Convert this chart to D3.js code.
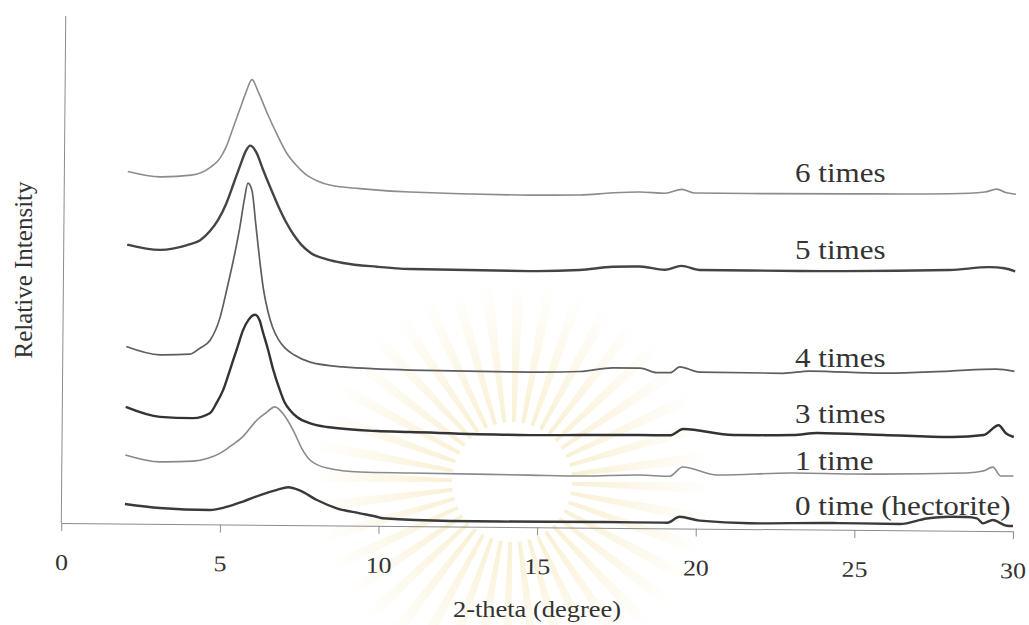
<!DOCTYPE html>
<html>
<head>
<meta charset="utf-8">
<script src="https://cdn.jsdelivr.net/npm/d3@7"></script>
<style>
  body { margin: 0; background: #fff; }
  svg text { font-family: "Liberation Serif", "Times New Roman", serif; fill: #333; }
</style>
</head>
<body>
<div id="chart"></div>
<script>
// XRD patterns, [2-theta, relative intensity]
const series0 = [[2.0,19.6],[3.1,15.9],[4.68,14.3],[5.2,17.5],[5.72,23],[6.26,29.7],[6.79,35],[7.14,37.7],[7.52,34.4],[8.05,25.2],[8.68,17.1],[9.41,12.3],[9.94,9],[10.13,7.5],[12.26,5.4],[13.83,5.3],[16.98,5.7],[19.1,5.6],[19.49,11.7],[20.12,7.9],[21.7,5.7],[24.32,6.7],[26.43,6.3],[27.28,12],[28.01,14],[28.54,13.9],[28.86,12.7],[29.05,7.7],[29.36,11.1],[29.8,5.5],[30,5.3]];
const series1 = [[2.0,68.6],[3.09,62],[4.15,63],[4.6,66],[4.98,71],[5.3,78],[5.7,88],[6.14,104.7],[6.46,113],[6.7,118],[6.95,111.6],[7.28,95],[7.59,75],[7.82,65.2],[8.36,57.3],[9.4,53.6],[10.98,53],[14.76,52],[16.33,51.5],[18.22,53],[19.16,52],[19.57,61.4],[20.66,53.7],[23.05,56.4],[24.84,55.9],[28.53,57.9],[29.04,60],[29.35,64],[29.6,55.2],[30,55.3]];
const series3 = [[2.0,116.6],[3.08,107],[4.12,106],[4.65,111],[4.87,122],[5.06,134],[5.21,148],[5.37,164],[5.52,179],[5.67,194],[5.85,205],[6.05,210],[6.2,204],[6.3,193],[6.47,175],[6.63,156],[6.85,135],[7.0,123],[7.2,114],[7.4,108],[7.8,102],[8.35,98.3],[9.92,94.7],[10.96,94],[14.74,92],[16.32,92.5],[18.21,93],[19.16,93],[19.58,99.4],[21.16,93.8],[23.05,94.4],[23.81,96.6],[25.89,95.2],[28.0,93.7],[29.05,96],[29.52,106],[29.75,98],[30,94.3]];
const series4 = [[2.0,177],[3.06,169],[4.01,170],[4.32,176],[4.64,184],[4.94,206],[5.16,236],[5.4,272],[5.55,298],[5.68,325],[5.79,341.5],[5.92,334],[6.05,300],[6.18,265],[6.3,237],[6.45,214],[6.6,198],[6.8,185],[7.0,177],[7.3,170],[7.8,163],[8.83,158.5],[10.95,156],[14.73,155],[16.31,156],[17.35,160],[18.2,160],[18.73,155.5],[19.16,155.6],[19.45,161.5],[20.08,156.5],[22.7,156],[23.55,158.5],[25.85,157],[27.96,159.7],[29.44,162],[30,160]];
const series5 = [[2.0,279],[3.03,274],[3.89,279],[4.3,284],[4.6,293],[4.85,304],[5.1,320],[5.35,342],[5.55,360],[5.72,374],[5.85,379],[6.05,372],[6.25,356],[6.5,337],[6.75,319],[7.0,303],[7.25,290],[7.5,280],[7.8,272],[8.3,266],[8.81,262.5],[9.88,259],[10.92,257],[14.7,256],[16.27,257.5],[17.31,261],[18.17,261.5],[18.95,258.5],[19.48,262.5],[20.05,258.6],[23.2,258.5],[27.93,260.7],[29.19,264],[29.66,263],[30,260]];
const series6 = [[2.0,352],[3.02,347],[4.0,349],[4.6,357],[4.9,366],[5.1,378],[5.3,396],[5.5,414],[5.7,432],[5.89,445],[6.1,432],[6.4,410],[6.7,390],[7.0,372],[7.3,360],[7.6,351],[8.0,344],[8.4,340],[9.32,337],[10.9,334],[14.68,332],[16.26,332.5],[17.3,335],[18.15,336],[18.94,335],[19.47,339],[19.88,335.5],[21.61,335.5],[24.76,336],[27.92,337],[29.02,339],[29.4,342],[29.65,339],[30,337]];

const seriesNames = ["0 time (hectorite)", "1 time", "3 times", "4 times", "5 times", "6 times"];
const xTicks = [0, 5, 10, 15, 20, 25, 30];

const width = 1029, height = 625;
const stretch = 1.15; // the scan is a bit wider than tall

const svg = d3.select("#chart").append("svg")
  .attr("width", width).attr("height", height);

// faint watermark behind the plot
const grad = svg.append("defs").append("radialGradient")
  .attr("id", "fade").attr("gradientUnits", "userSpaceOnUse")
  .attr("cx", 0).attr("cy", 0).attr("r", 200);
grad.append("stop").attr("offset", "0.3").attr("stop-color", "#f2dfa0").attr("stop-opacity", 0.45);
grad.append("stop").attr("offset", "1").attr("stop-color", "#f2dfa0").attr("stop-opacity", 0);

const mark = svg.append("g").attr("transform", "translate(512,482)");
for (let i = 0; i < 40; i++) {
  const a0 = (i / 40) * 2 * Math.PI, a1 = a0 + 0.06;
  const r0 = 60, r1 = 200;
  mark.append("path")
    .attr("d", `M${r0*Math.cos(a0)},${r0*Math.sin(a0)} L${r1*Math.cos(a0)},${r1*Math.sin(a0)} L${r1*Math.cos(a1)},${r1*Math.sin(a1)} L${r0*Math.cos(a1)},${r0*Math.sin(a1)}Z`)
    .attr("fill", "url(#fade)");
}

// whole plot is slightly tilted on the scan
const plot = svg.append("g").attr("transform", "rotate(0.5, 61, 523)");

const x = d3.scaleLinear().domain([0, 30]).range([61.3, 1013]);
const y = d3.scaleLinear().domain([0, 507]).range([523, 16]);

const stretchText = (sel) => sel.each(function() {
  const w = this.getComputedTextLength();
  d3.select(this).attr("textLength", w * stretch).attr("lengthAdjust", "spacingAndGlyphs");
});

const xAxis = plot.append("g")
  .attr("transform", `translate(0,${y(0)})`)
  .call(d3.axisBottom(x).tickValues(xTicks).tickSize(8).tickSizeOuter(0).tickPadding(23));
xAxis.select(".domain").attr("stroke", "#8c8c8c");
xAxis.selectAll(".tick line").attr("stroke", "#8c8c8c");
xAxis.selectAll(".tick text")
  .attr("font-size", 22.5)
  .attr("font-family", "Liberation Serif, serif")
  .attr("fill", "#333")
  .call(stretchText);

plot.append("line")
  .attr("x1", x(0)).attr("x2", x(0))
  .attr("y1", y(507)).attr("y2", y(0))
  .attr("stroke", "#8c8c8c");

const line = d3.line()
  .curve(d3.curveMonotoneX)
  .x(d => x(d[0]))
  .y(d => y(d[1]));

const curves = [
  {data: series0, color: "#3a3a3a", w: 2.4},
  {data: series1, color: "#8a8a8a", w: 1.6},
  {data: series3, color: "#333333", w: 2.4},
  {data: series4, color: "#5e5e5e", w: 1.7},
  {data: series5, color: "#444444", w: 2.4},
  {data: series6, color: "#8c8c8c", w: 1.6}
];

plot.selectAll("path.xrd").data(curves).enter()
  .append("path")
  .attr("class", "xrd")
  .attr("d", d => line(d.data))
  .attr("fill", "none")
  .attr("stroke", d => d.color)
  .attr("stroke-width", d => d.w)
  .attr("stroke-linejoin", "round");

// series labels sit above each trace on the right
const labelY = [515, 470, 423, 366.5, 259, 181.5];
svg.selectAll("text.series").data(seriesNames).enter()
  .append("text")
  .attr("class", "series")
  .attr("x", 795)
  .attr("y", (d, i) => labelY[i])
  .attr("font-size", 27)
  .text(d => d)
  .call(stretchText);

svg.append("text")
  .attr("x", 537).attr("y", 617)
  .attr("text-anchor", "middle")
  .attr("font-size", 23)
  .text("2-theta (degree)")
  .call(stretchText);

svg.append("text")
  .attr("transform", "translate(32,270) rotate(-90)")
  .attr("text-anchor", "middle")
  .attr("font-size", 25)
  .text("Relative Intensity");
</script>
</body>
</html>
